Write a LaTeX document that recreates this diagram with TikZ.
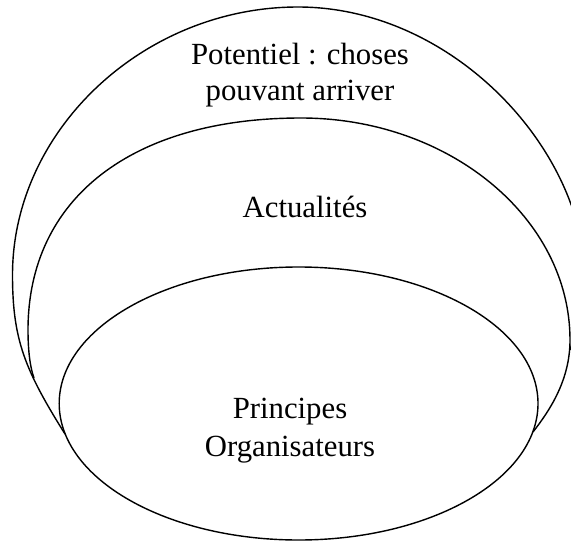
\documentclass[tikz,border=0pt]{standalone}
\usepackage{fontspec}
\setmainfont{Liberation Serif}
\begin{document}
\begin{tikzpicture}[x=0.2mm,y=-0.2mm,
  curve/.style={draw=black, line width=0.8pt},
  lbl/.style={anchor=base, inner sep=0pt, font=\fontsize{17.5}{20}\selectfont}]
\useasboundingbox (0,0) rectangle (571,542);
\begin{scope}
\clip (0,0) rectangle (571,542);
% outer shape: potentiel
\draw[curve] (65,434) .. controls (25,370) and (12.5,340) .. (12.5,275)
  .. controls (12.5,130) and (144,7) .. (298,7)
  .. controls (453,7) and (585,150) .. (585,280)
  .. controls (585,310) and (576,330) .. (570,350);
% middle shape: actualites
\draw[curve] (34,378) .. controls (30,367) and (28,350) .. (28,330)
  .. controls (28,198.6) and (131.7,118) .. (301,118)
  .. controls (449,118) and (570,218) .. (570,340)
  .. controls (570,380) and (550,410) .. (533,432);
% inner ellipse: principes organisateurs
\draw[curve] (298.6,403.5) ellipse [x radius=239.4, y radius=136.5];
\end{scope}
\node[lbl] (p1) at (300,65) {Potentiel : choses};
\node[lbl] (p2) at (300,100) {pouvant arriver};
\node[lbl] (a) at (305,217) {Actualités};
\node[lbl] (o1) at (290,418) {Principes};
\node[lbl] (o2) at (290,456) {Organisateurs};
\end{tikzpicture}
\end{document}
